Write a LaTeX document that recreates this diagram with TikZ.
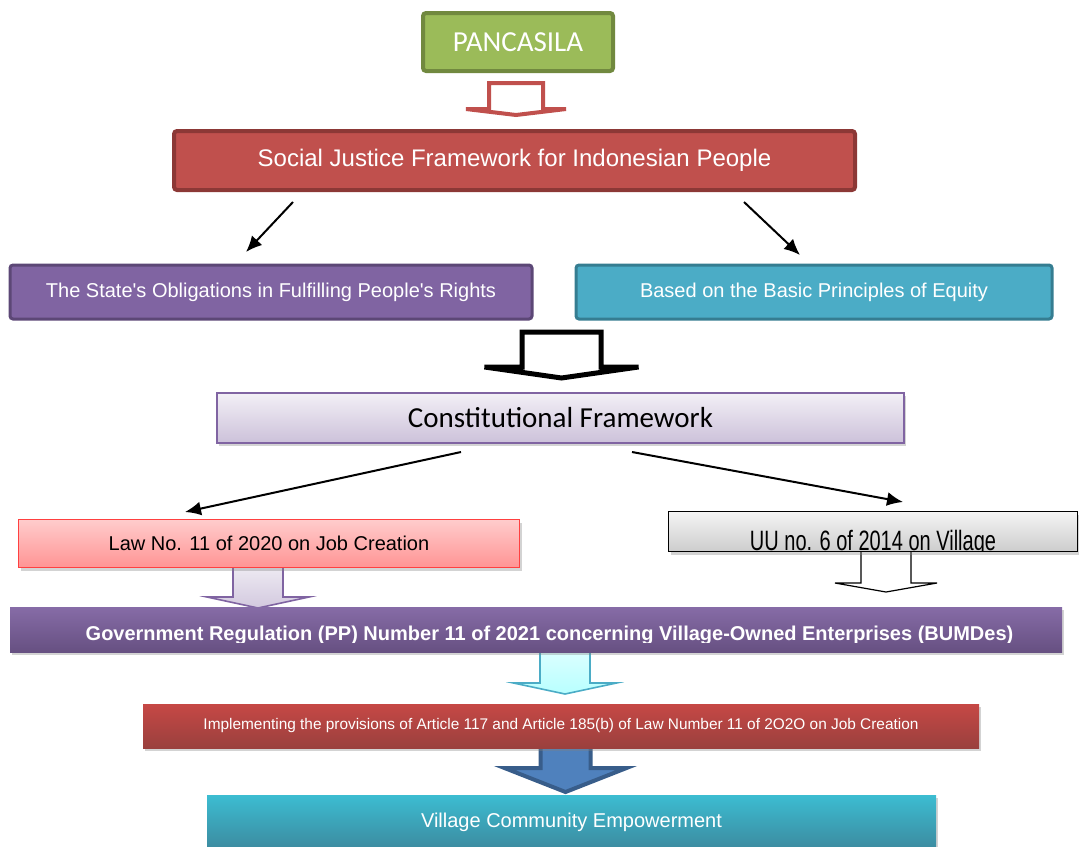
\documentclass[tikz,border=0pt]{standalone}
\usepackage{fontspec}
\setmainfont{Liberation Sans}
\newfontfamily\calibri{Carlito}
\usepackage{tikz}
\usetikzlibrary{arrows.meta,shadows}
\tikzset{
    every node/.style={rectangle, inner sep=0pt, align=center}
}
\tikzset{
    box/.style={draw, text=white, font=\fontsize{10}{12}\selectfont},
    roundbox/.style={box, rounded corners=1.5pt, line width=1.5pt},
    softshadow/.style={drop shadow={opacity=0.35, shadow xshift=1.2pt, shadow yshift=-1.5pt}},
    thinarrow/.style={line width=1pt, -{Latex[length=8pt,width=7pt]}}
}
\definecolor{olive}{HTML}{9BBB59}
\definecolor{darkolive}{HTML}{71893F}
\definecolor{brick}{HTML}{C0504D}
\definecolor{darkbrick}{HTML}{8C3836}
\definecolor{violet}{HTML}{8064A2}
\definecolor{darkviolet}{HTML}{5C4776}
\definecolor{aqua}{HTML}{4BACC6}
\definecolor{darkaqua}{HTML}{357D91}
\definecolor{steel}{HTML}{4F81BD}
\definecolor{darksteel}{HTML}{385D8A}
% arrow body: style, centre x, top y, half shaft, half head, head y, tip y
\newcommand{\blockarrow}[7]{
  \draw[#1] (#2-#4,#3) -- (#2+#4,#3) -- (#2+#4,#6) -- (#2+#5,#6) -- (#2,#7)
    -- (#2-#5,#6) -- (#2-#4,#6) -- cycle;
}
\pgfdeclarelayer{background}
\pgfsetlayers{background,main}

\begin{document}
\begin{tikzpicture}[x=0.5pt, y=-0.5pt]
  \useasboundingbox (0,0) rectangle (1079,846);

  \node (pancasila) [roundbox, fill=olive, draw=darkolive, line width=2pt,
    minimum width=95pt, minimum height=29pt, font=\calibri\fontsize{14.5}{16}\selectfont]
    at (518,42) {PANCASILA};
  \node (justice) [roundbox, fill=brick, draw=darkbrick, line width=2pt,
    minimum width=340.5pt, minimum height=29.5pt, font=\fontsize{12}{14}\selectfont]
    at (514.5,160.5) {Social Justice Framework for Indonesian People};
  \node (rights) [roundbox, fill=violet, draw=darkviolet,
    minimum width=261pt, minimum height=27pt] at (271,292)
    {The State\textquotesingle s Obligations in Fulfilling People\textquotesingle s Rights};
  \node (equity) [roundbox, fill=aqua, draw=darkaqua,
    minimum width=238pt, minimum height=27pt] at (814,292)
    {Based on the Basic Principles of Equity};
  \node (constitution) [box, softshadow, draw=violet, line width=1pt, text=black,
    top color=violet!10, bottom color=violet!40,
    minimum width=343.5pt, minimum height=25pt, font=\calibri\fontsize{14.5}{16}\selectfont]
    at (560.5,418) {Constitutional Framework};
  \node (jobs) [box, softshadow, draw=red!75!white, line width=0.6pt, text=black,
    top color=red!20, bottom color=red!42,
    minimum width=250.5pt, minimum height=24pt] at (269,543.5)
    {Law No. 11 of 2020 on Job Creation};
  \node (village) [box, softshadow, draw=black, line width=0.8pt,
    top color=gray!8, bottom color=gray!40,
    minimum width=204.5pt, minimum height=20pt] at (873,531.5) {};
  \node (regulation) [box, softshadow, draw=none,
    top color=violet!95!white, bottom color=violet!80!black,
    minimum width=526pt, minimum height=22.5pt] at (536,629.5) {};
  \node (provisions) [box, softshadow, draw=none,
    top color=brick!90!red, bottom color=brick!80!black,
    minimum width=418pt, minimum height=22pt, font=\fontsize{7.7}{9}\selectfont]
    at (561,726)
    {Implementing the provisions of Article 117 and Article 185(b) of Law Number 11 of 2O2O on Job Creation};
  \node (empowerment) [box, softshadow, draw=none,
    top color=aqua!80!cyan, bottom color=aqua!80!black,
    minimum width=364.5pt, minimum height=27.5pt] at (571.5,822.5)
    {Village Community Empowerment};

  % clipped labels
  \begin{scope}
    \clip (669,512) rectangle (1077,551);
    \node (villagetext) [anchor=base, yscale=1.4, font=\fontsize{10}{12}\selectfont]
      at (873,550) {UU no. 6 of 2014 on Village};
  \end{scope}
  \begin{scope}
    \clip (10,607) rectangle (1062,642);
    \node (regulationtext) [anchor=base, text=white, font=\bfseries\fontsize{10}{12}\selectfont]
      at (549.5,640)
      {Government Regulation (PP) Number 11 of 2021 concerning Village-Owned Enterprises (BUMDes)};
  \end{scope}

  \coordinate (j1) at (293,202); \coordinate (r1) at (246,252);
  \coordinate (j2) at (744,202); \coordinate (e1) at (800,255);
  \coordinate (c1) at (461,452); \coordinate (l1) at (185,512);
  \coordinate (c2) at (632,452); \coordinate (v1) at (903,502);
  \draw[thinarrow] (j1) -- (r1); \draw[thinarrow] (j2) -- (e1);
  \draw[thinarrow] (c1) -- (l1); \draw[thinarrow] (c2) -- (v1);

  \begin{pgfonlayer}{background}
    \blockarrow{draw=brick, fill=white, line width=2pt}{516}{83}{27}{50}{109}{115}
    \blockarrow{draw=black, fill=white, line width=2.5pt, line join=miter}{561.5}{332}{39.5}{77}{367}{378}
    \blockarrow{draw=violet, line width=0.8pt, top color=violet!10, bottom color=violet!35}{258}{560}{25}{51}{597}{608}
    \blockarrow{draw=black, fill=white, line width=0.6pt}{886}{545}{25}{51}{583}{592}
    \blockarrow{draw=aqua, line width=0.8pt, top color=cyan!12, bottom color=cyan!28}{565}{645}{25}{51.5}{683}{694}
    \blockarrow{draw=darksteel, fill=steel, line width=2pt}{565.5}{740}{25}{61}{768}{792}
  \end{pgfonlayer}
\end{tikzpicture}
\end{document}
